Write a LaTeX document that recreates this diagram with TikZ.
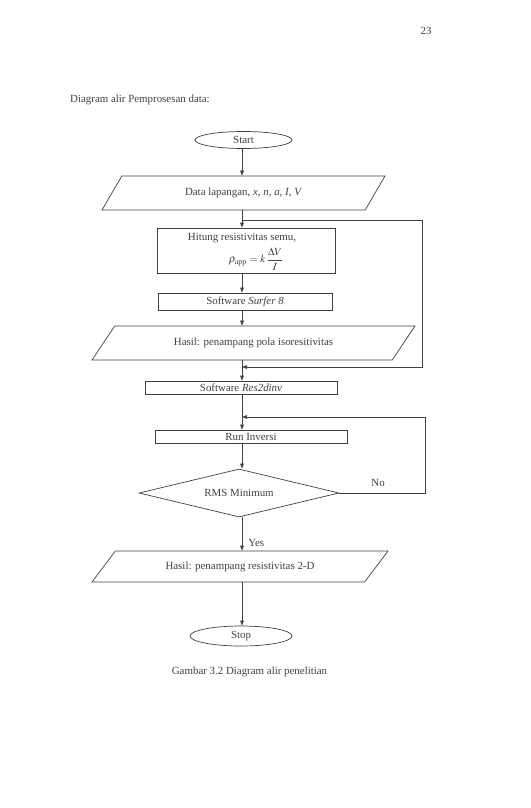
\documentclass[tikz,border=0pt]{standalone}
\usepackage{mathptmx}
\usepackage{fontspec}
\setmainfont{Liberation Serif}
\usetikzlibrary{shapes.geometric,arrows.meta}
\definecolor{ink}{gray}{0.25}

\begin{document}
\begin{tikzpicture}[x=1pt,y=-1pt,
	every node/.style={font=\fontsize{10.9}{13}\selectfont,text=ink,inner sep=0pt},
	line/.style={draw=ink,line width=0.7pt},
	arr/.style={line,-{Triangle[length=5pt,width=3.6pt]}},
	term/.style={ellipse,line,minimum height=17,minimum width=97},
	box/.style={rectangle,line,minimum height=13,minimum width=#1},
	box/.default=180,
	io/.style={trapezium,line,trapezium stretches body,minimum height=34,minimum width=#1},
	decide/.style={diamond,line,shape aspect=4,minimum width=200,minimum height=48}]
\useasboundingbox (0,0) rectangle (530,808);
% header
\node (page) at (426,31) {23};
\node[anchor=west] (title) at (70,100) {Diagram alir Pemprosesan data:};
% flow
\node[term] (start) at (243.5,140) {Start};
\node[io=283,trapezium left angle=26.6,trapezium right angle=153.4] (data) at (243.5,193)
	{Data lapangan, \textit{x}, \textit{n}, \textit{a}, \textit{I}, \textit{V}};
\node[box=178,minimum height=45] (hitung) at (246,250.5) {};
\node (hitungtxt) at (242,238) {Hitung resistivitas semu,};
\node (rumus) at (256,259) {$\displaystyle\rho_{\mathrm{app}}=k\,\frac{\Delta V}{I}$};
\node[box=174,minimum height=17] (surfer) at (245,301.5) {Software \textit{Surfer 8}};
\node[io=323,trapezium left angle=23.6,trapezium right angle=156.4] (pola) at (253.5,343)
	{Hasil: penampang pola isoresitivitas};
\node[box=192] (res) at (241,387.5) {Software \textit{Res2dinv}};
\node[box=192] (run) at (251,436.5) {Run Inversi};
\node[decide] (rms) at (239,493) {RMS Minimum};
\node[io=296,minimum height=31,trapezium left angle=23,trapezium right angle=157] (hasil) at (240,566.5)
	{Hasil: penampang resistivitas 2-D};
\node[term,minimum height=20,minimum width=102] (stop) at (241,636) {Stop};
% caption
\node (caption) at (249.5,672) {Gambar 3.2 Diagram alir penelitian};
% junctions on the spine
\coordinate (j1) at (242,220);
\coordinate (j2) at (242,367);
\coordinate (j3) at (242,417);
% connectors
\draw[arr] (start.south -| j1) -- (data.north -| j1);
\draw[arr] (data.south -| j1) -- (hitung.north -| j1);
\draw[arr] (hitung.south -| j1) -- (surfer.north -| j1);
\draw[arr] (surfer.south -| j1) -- (pola.north -| j1);
\draw[arr] (pola.south -| j1) -- (res.north -| j1);
\draw[arr] (res.south -| j1) -- (run.north -| j1);
\draw[arr] (run.south -| j1) -- (rms.north -| j1);
\draw[arr] (rms.south -| j1) -- node[pos=0.78,right=6pt] (yes) {Yes} (hasil.north -| j1);
\draw[arr] (hasil.south -| j1) -- (stop.north -| j1);
% loops
\draw[arr] (j1) -- ++(180,0) |- (j2);
\draw[arr] (rms.east) -- node[above=6pt,pos=0.45] (no) {No} ++(86,0) |- (j3);
\end{tikzpicture}
\end{document}
